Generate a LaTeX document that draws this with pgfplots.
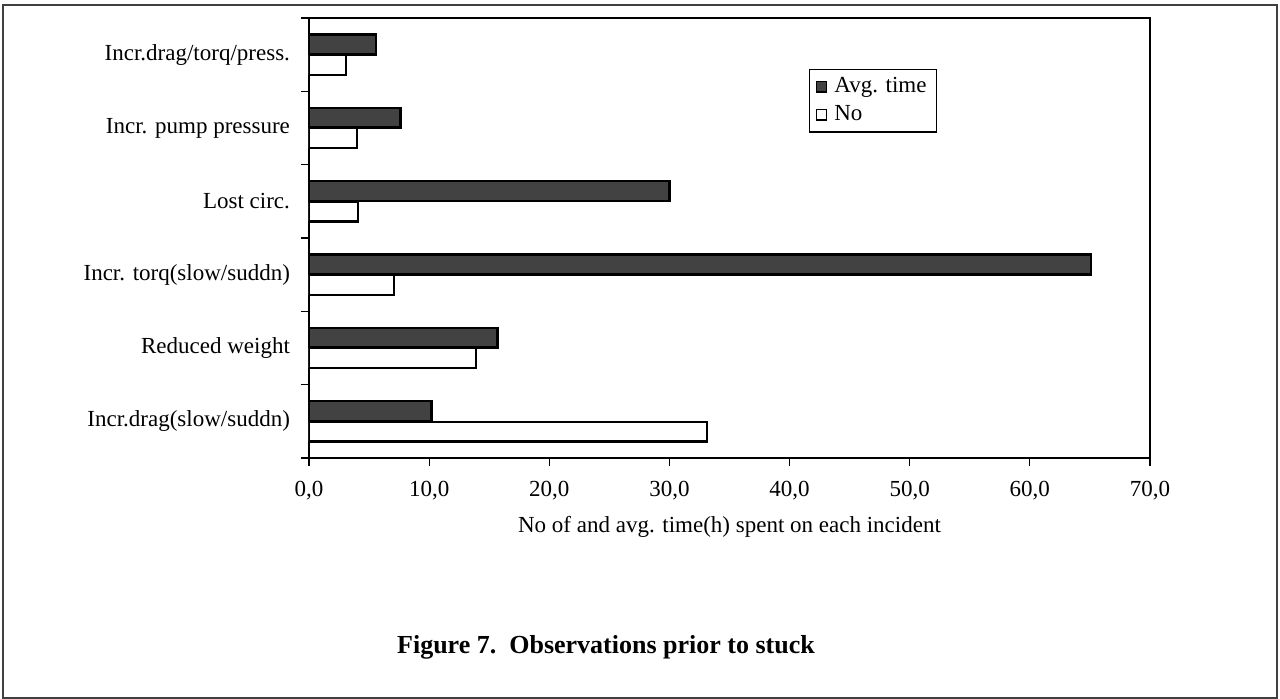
\documentclass[border=0pt]{standalone}
\usepackage{pgfplots}
\pgfplotsset{compat=1.18}
\usepackage{fontspec}
\setmainfont{Liberation Serif}
\definecolor{bardark}{HTML}{424242}

\newcommand{\chartfont}{\fontsize{11.5}{14}\selectfont}

\begin{document}
\begin{tikzpicture}
\path[use as bounding box] (0pt,0pt) rectangle (640pt,-349.5pt);
\draw[line width=0.8pt, black!75] (1.5pt,-2.5pt) rectangle (638.5pt,-349pt);
\begin{axis}[
  at={(154.5pt,-229pt)}, anchor=south west,
  scale only axis, width=420.5pt, height=220pt,
  xbar,
  xmin=0, xmax=70, ymin=-0.5, ymax=5.5,
  xtick={0,10,20,30,40,50,60,70},
  ytick={-0.5,0.5,1.5,2.5,3.5,4.5,5.5},
  y tick label as interval,
  yticklabels={Incr.drag(slow/suddn),Reduced weight,Incr. torq(slow/suddn),Lost circ.,Incr. pump pressure,Incr.drag/torq/press.},
  xtick pos=bottom, ytick pos=left,
  tick align=outside,
  major tick length=4pt,
  major tick style={line width=0.6pt, black},
  axis line style={line width=1.4pt},
  tick label style={font=\chartfont},
  /pgf/number format/.cd, fixed, fixed zerofill, precision=1, use comma, assume math mode=true,
  /pgfplots/.cd,
  xticklabel style={yshift=-4pt},
  yticklabel style={xshift=-2pt},
  xlabel={No of and avg. time(h) spent on each incident},
  xlabel style={font=\chartfont, at={(axis description cs:0.5,0)}, anchor=center, yshift=-34.5pt},
  legend style={at={(0.5945,0.884)}, anchor=north west, draw=black, line width=0.6pt,
    font=\chartfont, inner xsep=3pt, inner ysep=2pt, row sep=1pt,
    cells={anchor=west},
    /tikz/every odd column/.append style={column sep=1.5pt}},
  legend image code/.code={\draw[#1, line width=0.7pt] (0pt,-2.6pt) rectangle (5.2pt,2.6pt);},
]
% average time spent per observation (h)
\addplot[fill=bardark, draw=black, line width=1.2pt, bar width=0.27, bar shift=0.14]
  coordinates {(5.6,5) (7.6,4) (30.0,3) (65.1,2) (15.7,1) (10.2,0)};
% number of incidents
\addplot[fill=white, draw=black, line width=1.1pt, bar width=0.27, bar shift=-0.14]
  coordinates {(3.1,5) (4.0,4) (4.1,3) (7.1,2) (13.9,1) (33.1,0)};
\legend{Avg. time\hspace{6pt}, No}
\end{axis}
\node[font=\bfseries\fontsize{13}{15}\selectfont] at (303pt,-323.5pt) {Figure 7.\ \ Observations prior to stuck};
\end{tikzpicture}
\end{document}
